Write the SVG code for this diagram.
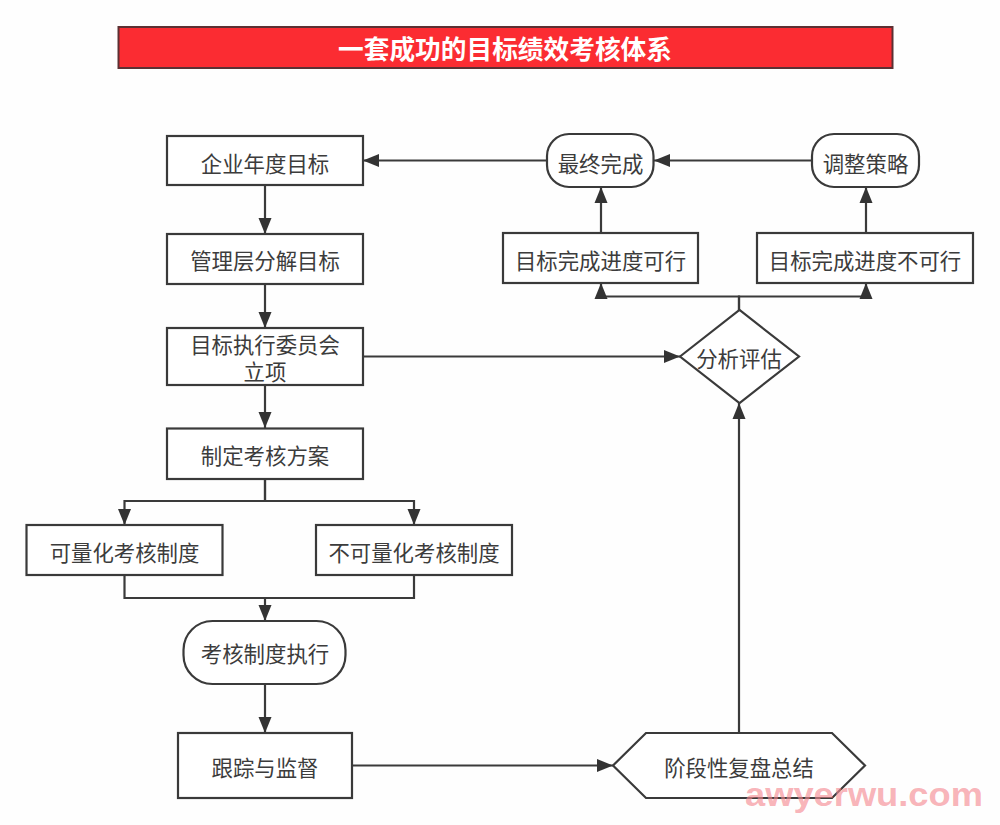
<svg xmlns="http://www.w3.org/2000/svg" width="1000" height="825" viewBox="0 0 1000 825">
<style>
.s{fill:#fff;stroke:#3a3a3a;stroke-width:2.2}
.t{font-family:"Noto Sans CJK SC","Noto Sans",sans-serif;font-size:21.4px;fill:#3c3c3c;text-anchor:middle}
.c{fill:none;stroke:#3a3a3a;stroke-width:2.2}
</style>
<defs>
<marker id="a" markerUnits="userSpaceOnUse" markerWidth="17" markerHeight="14" refX="16" refY="7" orient="auto"><path d="M0 0.500L16 7L0 13.500Z" fill="#333"/></marker>
</defs>
<rect width="1000" height="825" fill="#fefefe"/>
<g id="title"><rect x="118.500" y="27" width="774" height="41" fill="#fb2c32" stroke="#5c3033" stroke-width="2"/>
<text x="505" y="59" style="font-family:'Noto Sans CJK SC','Noto Sans',sans-serif;font-size:25.700px;font-weight:700;fill:#fff;text-anchor:middle">一套成功的目标绩效考核体系</text></g>
<g id="connectors">
<path class="c" marker-end="url(#a)" d="M265 185V234"/>
<path class="c" marker-end="url(#a)" d="M265 284V328"/>
<path class="c" marker-end="url(#a)" d="M265 385V428"/>
<path class="c" marker-end="url(#a)" d="M265 479V501H124.500V525"/>
<path class="c" marker-end="url(#a)" d="M265 479V501H414V525"/>
<path class="c" d="M124.500 575V598H414V575"/>
<path class="c" marker-end="url(#a)" d="M265 598V621"/>
<path class="c" marker-end="url(#a)" d="M265 684V733"/>
<path class="c" marker-end="url(#a)" d="M352 765.500H613"/>
<path class="c" marker-end="url(#a)" d="M739 733V403"/>
<path class="c" marker-end="url(#a)" d="M363 356.500H680"/>
<path class="c" marker-end="url(#a)" d="M739 310V296.500H601V283"/>
<path class="c" marker-end="url(#a)" d="M739 310V296.500H866V283"/>
<path class="c" marker-end="url(#a)" d="M601 233V187"/>
<path class="c" marker-end="url(#a)" d="M866 233V187"/>
<path class="c" marker-end="url(#a)" d="M812 160.500H654"/>
<path class="c" marker-end="url(#a)" d="M547 160.500H363"/>
</g>
<g id="n1"><rect class="s" x="167" y="136" width="196" height="49"/><text class="t" x="265" y="172">企业年度目标</text></g>
<g id="n2"><rect class="s" x="167" y="234" width="196" height="50"/><text class="t" x="265" y="269">管理层分解目标</text></g>
<g id="n3"><rect class="s" x="167" y="328" width="196" height="57"/><text class="t" x="265" y="353">目标执行委员会</text><text class="t" x="265" y="380">立项</text></g>
<g id="n4"><rect class="s" x="167" y="428.500" width="196" height="50.500"/><text class="t" x="265" y="464">制定考核方案</text></g>
<g id="n5"><rect class="s" x="26.500" y="525" width="196" height="50"/><text class="t" x="124.500" y="561">可量化考核制度</text></g>
<g id="n6"><rect class="s" x="316" y="525" width="196" height="50"/><text class="t" x="414" y="561">不可量化考核制度</text></g>
<g id="n7"><rect class="s" x="183.500" y="621" width="162" height="63" rx="29" ry="29"/><text class="t" x="265" y="662">考核制度执行</text></g>
<g id="n8"><rect class="s" x="178" y="733" width="174" height="65"/><text class="t" x="265" y="776">跟踪与监督</text></g>
<g id="n9"><path class="s" d="M613 765.500L646 733H832L865 765.500L832 798H646Z"/><text class="t" x="739" y="776">阶段性复盘总结</text></g>
<g id="n10"><path class="s" d="M680 356.500L739.500 310L799 356.500L739.500 403Z"/><text class="t" x="739" y="367">分析评估</text></g>
<g id="n11"><rect class="s" x="503" y="233" width="195" height="50"/><text class="t" x="600.500" y="269">目标完成进度可行</text></g>
<g id="n12"><rect class="s" x="757" y="233" width="216" height="50"/><text class="t" x="865" y="269">目标完成进度不可行</text></g>
<g id="n13"><rect class="s" x="547" y="134" width="106.500" height="53" rx="22" ry="22"/><text class="t" x="600.500" y="172">最终完成</text></g>
<g id="n14"><rect class="s" x="812" y="134" width="107" height="53" rx="22" ry="22"/><text class="t" x="865.500" y="172">调整策略</text></g>
<text x="745" y="806" textLength="238" lengthAdjust="spacingAndGlyphs" style="font-family:'Liberation Sans',sans-serif;font-size:34px;font-weight:700;fill:#f58a92;fill-opacity:.65">awyerwu.com</text>
</svg>
